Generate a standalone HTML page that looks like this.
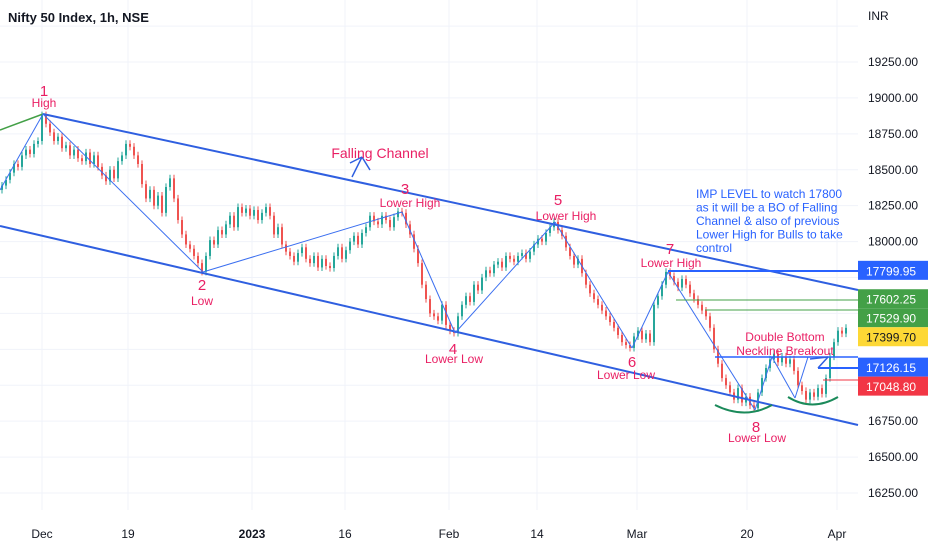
<!DOCTYPE html>
<html><head><meta charset="utf-8"><style>
body{margin:0;background:#fff;}
svg{display:block;font-family:"Liberation Sans",sans-serif;}
</style></head><body>
<svg id="chart" width="932" height="550" xmlns="http://www.w3.org/2000/svg">
<g id="grid"></g>
<g id="candles"></g>
<g id="annot"></g>
<g id="axis"></g>
<text x="8" y="22" font-size="13" font-weight="bold" fill="#131722">Nifty 50 Index, 1h, NSE</text>
<text x="868" y="20" font-size="12" fill="#131722">INR</text>
</svg>
<script>
const closes=[18390,18430,18480,18540,18520,18600,18640,18610,18680,18700,18880,
18820,18760,18700,18730,18650,18670,18600,18640,18580,18560,18620,18540,18600,18520,18460,18420,18500,
18440,18560,18600,18680,18660,
18600,18540,18400,18300,18360,18250,18320,18200,18380,18440,18300,18150,18050,17980,17950,17900,17850,17790,
17900,18010,17980,18080,18050,18120,18180,18100,18240,18200,18230,
18180,18220,18150,18200,18240,18180,18050,18100,17980,17930,17900,17860,
17920,17960,17880,17850,17900,17820,17880,17830,17816,
17900,17960,17880,17940,18000,18040,17980,18060,18100,18180,18140,18120,18180,18150,18100,18170,18210,18200,
18120,18050,17950,17850,17700,17600,17500,17480,17450,17560,17420,17380,17364,
17480,17560,17620,17580,17700,17660,17750,17800,17780,17840,17860,17820,17900,17880,17860,17900,17920,17880,17930,
17980,18020,18000,18060,18100,18137,
18080,18040,17960,17900,17840,17880,17780,17700,17640,17600,17560,17520,17480,17440,17400,17350,17300,17280,17260,
17340,17380,17320,17360,17300,17560,17620,17700,17789,
17760,17720,17680,17740,17700,17640,17600,17560,17520,
17480,17400,17250,17150,17050,17000,16950,16900,16980,16880,16920,16860,16840,
16950,17050,17120,17180,17220,17160,17200,17150,17180,
17100,17000,16960,16900,16950,16920,16980,16940,17050,
17200,17300,17380,17360,17399.7];
const priceTicks=[19500,19250,19000,18750,18500,18250,18000,17750,17500,17250,17000,16750,16500,16250];
const dateLabels=["Dec","19","2023","16","Feb","14","Mar","20","Apr"];
const dateIdx=[10,31.5,62.5,85.75,111.75,133.75,158.75,186.25,208.75];
const levelPrices=[17799.95,17602.25,17529.90,17399.70,17126.15,17048.80];
const levelColors=["#2962ff","#43a047","#43a047","#fdd835","#2962ff","#f23645"];
const ns="http://www.w3.org/2000/svg";
const y=p=>62+(19250-p)*0.14367;
const x=i=>2+i*4;
function mk(t,a,parent){const e=document.createElementNS(ns,t);for(const k in a)e.setAttribute(k,a[k]);parent.appendChild(e);return e;}
const grid=document.getElementById('grid'),axis=document.getElementById('axis');
const tagY=[];levelPrices.forEach((p,k)=>{let v=y(p);if(k&&v<tagY[k-1]+19)v=tagY[k-1]+19;tagY.push(v);});
priceTicks.forEach(p=>{
 const l=mk('line',{x1:0,x2:858,y1:y(p),y2:y(p),stroke:'#f0f3fa'},grid);
 
 
 if(y(p)<40)return;
 if(tagY.some(v=>Math.abs(v-y(p))<16))return;
 const t=mk('text',{x:868,y:y(p)+4,'font-size':12,fill:'#131722'},axis);
 t.textContent=p.toFixed(2);
 
 
});
dateLabels.forEach((d,k)=>{
 const xx=x(dateIdx[k]);
 const l=mk('line',{x1:xx,x2:xx,y1:0,y2:510,stroke:'#f0f3fa'},grid);
 
 
 const t=mk('text',{x:xx,y:538,'font-size':12,'text-anchor':'middle',fill:'#131722','font-weight':d=='2023'?'bold':'normal'},axis);
 t.textContent=d;
 
 
});
const cg=document.getElementById('candles');
closes.forEach((c,i)=>{
 const o=i?closes[i-1]:c-30;const up=c>=o;const col=up?'#26a69a':'#ef5350';
 const hi=Math.max(o,c)+25,lo=Math.min(o,c)-25;
 const w=mk('line',{x1:x(i),x2:x(i),y1:y(hi),y2:y(lo),stroke:col,'stroke-width':1},cg);
 
 
 const b=mk('rect',{x:x(i)-1,y:y(Math.max(o,c)),width:2,height:Math.max(1,Math.abs(y(o)-y(c))),fill:col},cg);
 
 
});
levelPrices.forEach((p,k)=>{
 const r=mk('rect',{x:858,y:tagY[k]-9.5,width:70,height:19,fill:levelColors[k]},axis);
 
 
 const t=mk('text',{x:866,y:tagY[k]+5,'font-size':12,fill:k==3?'#131722':'#fff'},axis);
 t.textContent=p.toFixed(2);
 
 
});
const an=document.getElementById('annot');
function line(a,b,c,d,col,w,name){const l=mk('line',{x1:a,y1:b,x2:c,y2:d,stroke:col,'stroke-width':w},an);}
function txt(s,a,b,col,sz,anchor,name){const t=mk('text',{x:a,y:b,fill:col,'font-size':sz,'text-anchor':anchor||'middle'},an);t.textContent=s;}
line(43,114,858,290,'#2f5fe0',2,'upper-channel');
line(0,226,858,425,'#2f5fe0',2,'lower-channel');
line(0,130,43,114,'#43a047',1.5,'trend-line-green');
const zz=[[0,190],[43,114],[203,272],[402,212],[455,333],[555,222],[632,348],[668,272],[755,410],[772,357],[795,398],[808,357],[820,357]];
for(let k=0;k<zz.length-1;k++)line(zz[k][0],zz[k][1],zz[k+1][0],zz[k+1][1],'#3b6ff0',1,'zigzag-line');
line(668,271,858,271,'#2962ff',2,'level-17800');
line(676,300,858,300,'#43a047',1,'level-17602');
line(705,310,858,310,'#43a047',1,'level-17530');
line(715,357,858,357,'#2962ff',1.5,'neckline');
line(818,368,858,368,'#2962ff',2,'level-17126');
line(823,380,858,380,'#f23645',1,'level-17048');
line(352,177,362,157,'#2f5fe0',1.5,'arrow-1');line(362,157,370,170,'#2f5fe0',1.5,'arrow-1b');line(350,163,362,157,'#2f5fe0',1.5,'arrow-1c');
line(818,368,828,357,'#2f5fe0',1.5,'arrow-2');line(810,359,828,357,'#2f5fe0',1.5,'arrow-2b');
mk('path',{d:'M715 405 Q745 420 772 405',fill:'none',stroke:'#1b8a5a','stroke-width':2},an);
mk('path',{d:'M788 397 Q812 412 838 397',fill:'none',stroke:'#1b8a5a','stroke-width':2},an);
const R='#e91e63';
txt('1',44,96,R,15,'middle','label-1');txt('High',44,107,R,12,'middle','label-high');
txt('Falling Channel',380,158,R,14,'middle','label-falling-channel');
txt('2',202,290,R,15,'middle','label-2');txt('Low',202,305,R,12,'middle','label-low');
txt('3',405,194,R,15,'middle','label-3');txt('Lower High',410,207,R,12,'middle','label-lower-high-3');
txt('4',453,354,R,15,'middle','label-4');txt('Lower Low',454,363,R,12,'middle','label-lower-low-4');
txt('5',558,205,R,15,'middle','label-5');txt('Lower High',566,220,R,12,'middle','label-lower-high-5');
txt('6',632,367,R,15,'middle','label-6');txt('Lower Low',626,379,R,12,'middle','label-lower-low-6');
txt('7',670,254,R,15,'middle','label-7');txt('Lower High',671,267,R,12,'middle','label-lower-high-7');
txt('8',756,432,R,15,'middle','label-8');txt('Lower Low',757,442,R,12,'middle','label-lower-low-8');
txt('Double Bottom',785,341,R,12,'middle','label-double-bottom');txt('Neckline Breakout',785,355,R,12,'middle','label-neckline');
const B='#2962ff';
['IMP LEVEL to watch 17800','as it will be a BO of Falling','Channel & also of previous','Lower High for Bulls to take','control'].forEach((s,k)=>txt(s,696,198+k*13.5,B,12,'start','imp-level-note'));
</script>
</body></html>
